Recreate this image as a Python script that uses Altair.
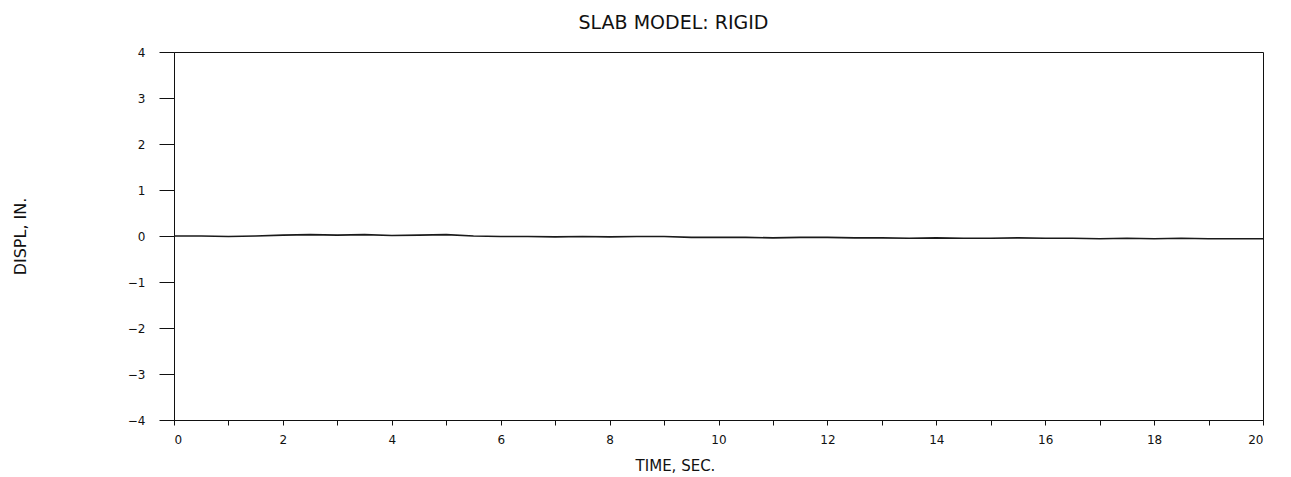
import altair as alt
import pandas as pd

# time (s) and displacement (in)
time_s = [0.0, 0.5, 1.0, 1.5, 2.0, 2.5, 3.0, 3.5, 4.0, 4.5,
          5.0, 5.5, 6.0, 6.5, 7.0, 7.5, 8.0, 8.5, 9.0, 9.5,
          10.0, 10.5, 11.0, 11.5, 12.0, 12.5, 13.0, 13.5, 14.0, 14.5,
          15.0, 15.5, 16.0, 16.5, 17.0, 17.5, 18.0, 18.5, 19.0, 19.5, 20.0]
displ_in = [0.0, 0.0, -0.01, 0.0, 0.02, 0.03, 0.02, 0.03, 0.01, 0.02,
            0.03, 0.0, -0.01, -0.01, -0.02, -0.01, -0.02, -0.01, -0.01, -0.03,
            -0.03, -0.03, -0.04, -0.03, -0.03, -0.04, -0.04, -0.05, -0.04, -0.05,
            -0.05, -0.04, -0.05, -0.05, -0.06, -0.05, -0.06, -0.05, -0.06, -0.06, -0.06]

x_ticks = list(range(0, 21))
y_ticks = [-4, -3, -2, -1, 0, 1, 2, 3, 4]

df = pd.DataFrame({"t": time_s, "d": displ_in})

FONT = "DejaVu Sans"

chart = alt.Chart(df).mark_line(color="#1a1a1a", strokeWidth=1.6).encode(
    x=alt.X("t:Q",
            scale=alt.Scale(domain=[0, 20], nice=False, zero=False),
            axis=alt.Axis(values=x_ticks, title="TIME, SEC.",
                          labelExpr="datum.value % 2 == 0 ? datum.label : ''",
                          grid=False, tickSize=5, labelPadding=9,
                          labelFont=FONT, labelFontSize=12, labelColor="#111",
                          titleFont=FONT, titleFontSize=15, titleFontWeight="normal",
                          titleColor="#111", titleX=501, titleY=45,
                          titleAlign="center", titleBaseline="middle",
                          domainColor="#111", tickColor="#111")),
    y=alt.Y("d:Q",
            scale=alt.Scale(domain=[-4, 4], nice=False, zero=False),
            axis=alt.Axis(values=y_ticks, title="DISPL, IN.", format="d",
                          grid=False, tickSize=15, labelPadding=14,
                          labelFont=FONT, labelFontSize=12, labelColor="#111",
                          titleFont=FONT, titleFontSize=16, titleFontWeight="normal",
                          titleColor="#111", titleAngle=270, titleX=-154, titleY=184,
                          titleAlign="center", titleBaseline="middle",
                          domainColor="#111", tickColor="#111")),
).properties(
    width=1089,
    height=368,
    title=alt.TitleParams("SLAB MODEL: RIGID", font=FONT, fontSize=19,
                          fontWeight="normal", color="#111", anchor="middle",
                          frame="group", baseline="alphabetic", offset=-2, dx=-45),
    autosize=alt.AutoSizeParams(type="none"),
    padding={"left": 166, "top": 44, "right": 20, "bottom": 57},
).configure(background="white", view=alt.ViewConfig(stroke="#111", strokeWidth=1))

chart.save("out.html", embed_options={"renderer": "svg", "actions": False})
